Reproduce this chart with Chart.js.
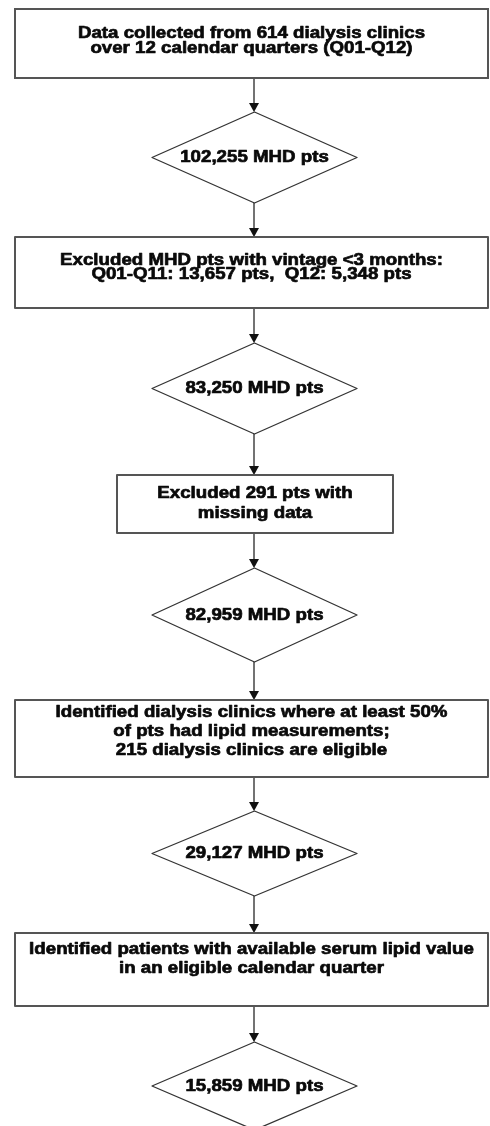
<!DOCTYPE html>
<html>
<head>
<meta charset="utf-8">
<script src="https://cdn.jsdelivr.net/npm/chart.js@4/dist/chart.umd.min.js"></script>
<style>
html, body { margin:0; padding:0; background:#fff; }
#wrap { position:relative; width:490px; height:1126px; }
</style>
</head>
<body>
<div id="wrap"><canvas id="flowChart"></canvas></div>
<script>
// flow steps (text + kind)
var stepLabels = [
	["Data collected from 614 dialysis clinics", "over 12 calendar quarters (Q01-Q12)"],
	["102,255 MHD pts"],
	["Excluded MHD pts with vintage <3 months:", "Q01-Q11: 13,657 pts,  Q12: 5,348 pts"],
	["83,250 MHD pts"],
	["Excluded 291 pts with", "missing data"],
	["82,959 MHD pts"],
	["Identified dialysis clinics where at least 50%", "of pts had lipid measurements;", "215 dialysis clinics are eligible"],
	["29,127 MHD pts"],
	["Identified patients with available serum lipid value", "in an eligible calendar quarter"],
	["15,859 MHD pts"]
];
var stepKinds = ["box","diamond","box","diamond","box","diamond","box","diamond","box","diamond"];

// layout (canvas units, same as axis values)
var layout = [
	{left:15,  right:488, top:9,    bottom:78,   lines:[33,48]},
	{cx:254.5, hw:102.5,  top:112,  bottom:203,  lines:[157]},
	{left:15,  right:488, top:237,  bottom:308,  lines:[260,274]},
	{cx:254.5, hw:102.5,  top:343,  bottom:434,  lines:[388]},
	{left:117, right:393, top:475,  bottom:533,  lines:[493,513]},
	{cx:254.5, hw:102.5,  top:568,  bottom:662,  lines:[615]},
	{left:15,  right:488, top:700,  bottom:777,  lines:[712,731,750]},
	{cx:254.5, hw:102.5,  top:811,  bottom:896,  lines:[853]},
	{left:15,  right:488, top:933,  bottom:1006, lines:[949,968]},
	{cx:254.5, hw:102.5,  top:1042, bottom:1130, lines:[1086]}
];
var arrowX = 254;

var flowPlugin = {
	id: 'flow',
	afterDatasetsDraw: function(chart){
		var ctx = chart.ctx;
		var sx = chart.scales.x, sy = chart.scales.y;
		var X = function(v){ return sx.getPixelForValue(v); };
		var Y = function(v){ return sy.getPixelForValue(v); };
		ctx.save();

		// arrows between steps
		for (var i=0;i<layout.length-1;i++){
			var y0 = Y(layout[i].bottom), y1 = Y(layout[i+1].top);
			ctx.strokeStyle = '#444';
			ctx.lineWidth = 1.5;
			ctx.beginPath();
			ctx.moveTo(X(arrowX), y0);
			ctx.lineTo(X(arrowX), y1 - 6);
			ctx.stroke();
			ctx.fillStyle = '#111';
			ctx.beginPath();
			ctx.moveTo(X(arrowX) - 5, y1 - 9);
			ctx.lineTo(X(arrowX) + 5, y1 - 9);
			ctx.lineTo(X(arrowX), y1);
			ctx.closePath();
			ctx.fill();
		}

		// shapes
		for (var i=0;i<layout.length;i++){
			var L = layout[i];
			ctx.fillStyle = '#fff';
			if (stepKinds[i] == "box"){
				ctx.strokeStyle = '#555';
				ctx.lineWidth = 2;
				ctx.fillRect(X(L.left), Y(L.top), X(L.right)-X(L.left), Y(L.bottom)-Y(L.top));
				ctx.strokeRect(X(L.left), Y(L.top), X(L.right)-X(L.left), Y(L.bottom)-Y(L.top));
			} else {
				var cy = (L.top + L.bottom)/2;
				ctx.strokeStyle = '#333';
				ctx.lineWidth = 1.3;
				ctx.beginPath();
				ctx.moveTo(X(L.cx), Y(L.top));
				ctx.lineTo(X(L.cx + L.hw), Y(cy));
				ctx.lineTo(X(L.cx), Y(L.bottom));
				ctx.lineTo(X(L.cx - L.hw), Y(cy));
				ctx.closePath();
				ctx.fill();
				ctx.stroke();
			}
			// text (a thin stroke makes it as heavy as the scan)
			var tx = stepKinds[i]=="box" ? (L.left+L.right)/2 : L.cx;
			ctx.fillStyle = '#0a0a0a';
			ctx.strokeStyle = '#0a0a0a';
			ctx.lineWidth = 0.7;
			ctx.lineJoin = 'round';
			ctx.font = 'bold 17px "Liberation Sans", Arial, sans-serif';
			ctx.textAlign = 'center';
			ctx.textBaseline = 'middle';
			for (var k=0;k<stepLabels[i].length;k++){
				ctx.save();
				ctx.translate(X(tx), Y(L.lines[k]));
				ctx.scale(1.1, 1);
				ctx.fillText(stepLabels[i][k], 0, 0);
				ctx.strokeText(stepLabels[i][k], 0, 0);
				ctx.restore();
			}
		}
		ctx.restore();
	}
};

// anchor points for each step (centre of every shape)
var anchors = [];
for (var i=0;i<layout.length;i++){
	var L = layout[i];
	anchors.push({x: stepKinds[i]=="box" ? (L.left+L.right)/2 : L.cx, y: (L.top+L.bottom)/2});
}

var flowChart = new Chart(document.getElementById("flowChart"), {
	type: 'scatter',
	data: {
		datasets: [{ label: 'steps', data: anchors, pointRadius: 0, showLine: false }]
	},
	options: {
		responsive: true,
		maintainAspectRatio: false,
		animation: false,
		layout: { padding: 0 },
		plugins: { legend: { display: false }, tooltip: { enabled: false } },
		scales: {
			x: { type: 'linear', min: 0, max: 490, display: false },
			y: { type: 'linear', min: 0, max: 1126, reverse: true, display: false }
		}
	},
	plugins: [flowPlugin]
});
</script>
</body>
</html>
